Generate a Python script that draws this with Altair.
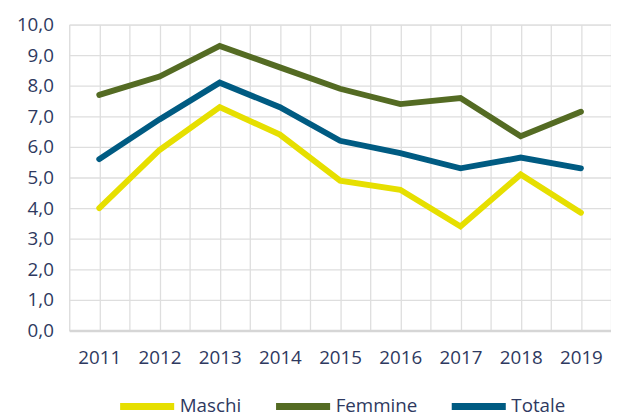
import altair as alt
import pandas as pd

years = [2011, 2012, 2013, 2014, 2015, 2016, 2017, 2018, 2019]
maschi = [4.0, 5.9, 7.3, 6.4, 4.9, 4.6, 3.4, 5.1, 3.85]
femmine = [7.7, 8.3, 9.3, 8.6, 7.9, 7.4, 7.6, 6.35, 7.15]
totale = [5.6, 6.9, 8.1, 7.3, 6.2, 5.8, 5.3, 5.65, 5.3]

series_names = ["Maschi", "Femmine", "Totale"]
series_colors = ["#E6DF00", "#546B23", "#005B82"]
y_ticks = [0, 1, 2, 3, 4, 5, 6, 7, 8, 9, 10]

rows = []
for name, vals in zip(series_names, [maschi, femmine, totale]):
    for yr, v in zip(years, vals):
        rows.append({"anno": yr, "valore": v, "serie": name})
df = pd.DataFrame(rows)

x_grid = [years[0] - 0.5 + 0.5 * i for i in range(2 * len(years) + 1)]

TEXT = "#2E3960"
FONT = "Open Sans"

chart = alt.Chart(df).mark_line(strokeWidth=6, strokeJoin="miter", strokeCap="round").encode(
    x=alt.X("anno:Q",
            scale=alt.Scale(domain=[years[0] - 0.5, years[-1] + 0.5], nice=False, zero=False),
            axis=alt.Axis(values=x_grid, title=None, ticks=False,
                          labelExpr="datum.value % 1 === 0 ? format(datum.value, 'd') : ''",
                          labelPadding=18, labelFontSize=19, labelColor=TEXT, labelFont=FONT,
                          grid=True, gridColor="#dedede", gridWidth=1.3,
                          domain=True, domainColor="#d6d6d6", domainWidth=2.5)),
    y=alt.Y("valore:Q",
            scale=alt.Scale(domain=[0, 10], nice=False),
            axis=alt.Axis(values=y_ticks, title=None, ticks=False, domain=False,
                          labelExpr="replace(format(datum.value, '.1f'), '.', ',')",
                          labelPadding=16, labelFontSize=19, labelColor=TEXT, labelFont=FONT,
                          grid=True, gridColor="#dedede", gridWidth=1.3)),
    color=alt.Color("serie:N",
                    scale=alt.Scale(domain=series_names, range=series_colors),
                    sort=series_names,
                    legend=alt.Legend(title=None, orient="none", direction="horizontal",
                                      legendX=48, legendY=356,
                                      symbolType="stroke", symbolSize=3000, symbolStrokeWidth=7,
                                      labelFontSize=19, labelColor=TEXT, labelFont=FONT,
                                      labelBaseline="middle",
                                      labelOffset=2, columnPadding=20)),
).properties(
    width=549, height=310,
    autosize=alt.AutoSizeParams(type="none"),
    padding={"left": 62, "top": 14, "right": 0, "bottom": 92},
).configure_view(
    fill="#ececec", stroke=None
).configure(background="white")

chart.save("out.html", embed_options={"renderer": "svg", "actions": False})
